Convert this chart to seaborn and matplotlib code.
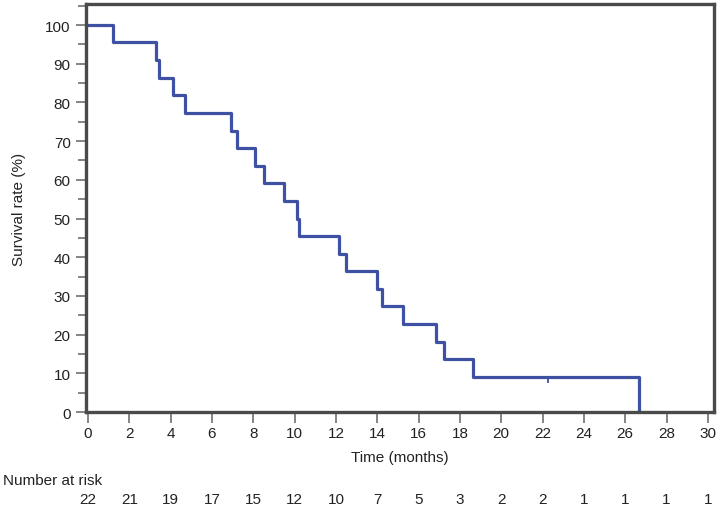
import numpy as np
import matplotlib
matplotlib.use("Agg")
import matplotlib.pyplot as plt
import matplotlib.transforms as mtransforms
from matplotlib.ticker import MultipleLocator
import pandas as pd
import seaborn as sns

# Kaplan-Meier steps
times = [0, 1.2, 3.3, 3.45, 4.1, 4.7, 6.9, 7.2, 8.1, 8.5, 9.5, 10.1, 10.2,
         12.15, 12.5, 14.0, 14.25, 15.25, 16.85, 17.25, 18.65, 26.65]
survival = [100, 95.5, 90.9, 86.4, 81.8, 77.3, 72.7, 68.2, 63.6, 59.1, 54.5, 50.0,
            45.5, 40.9, 36.4, 31.8, 27.3, 22.7, 18.2, 13.6, 9.1, 0]
censor_times = [22.25]
censor_surv = [9.1]
risk_times = list(range(0, 31, 2))
at_risk = [22, 21, 19, 17, 15, 12, 10, 7, 5, 3, 2, 2, 1, 1, 1, 1]

sns.set_style("white")
plt.rcParams["font.family"] = ["Liberation Sans Narrow", "Liberation Sans", "DejaVu Sans"]

df = pd.DataFrame({"time": times, "surv": survival})
line_col = "#3f51a3"
spine_col = "#4a4a4a"

fig = plt.figure(figsize=(7.2, 5.1), dpi=100)
ax = fig.add_axes([0.1194, 0.19, 0.8723, 0.80])

sns.lineplot(data=df, x="time", y="surv", drawstyle="steps-post", color=line_col,
             linewidth=2.3, ax=ax, estimator=None)
ax.scatter(censor_times, censor_surv, marker=[(0, 0), (0, -1)], s=70,
           color=line_col, linewidths=1.3, zorder=3)

ax.set_xlim(-0.1, 30.3)
ax.set_ylim(0, 105.4)
ax.set_xticks(risk_times)
ax.set_yticks(range(0, 101, 10))
ax.yaxis.set_minor_locator(MultipleLocator(5))
ax.tick_params(axis="both", which="both", direction="out", color="#707070",
               labelsize=11, labelcolor="#222222", bottom=True, left=True)
ax.tick_params(axis="x", which="major", length=8, width=1.2, pad=2)
ax.tick_params(axis="y", which="major", length=7, width=1.2, pad=4)
ax.tick_params(axis="y", which="minor", length=6, width=1.2)
for s in ax.spines.values():
    s.set_color(spine_col)
    s.set_linewidth(2.4)
    s.set_visible(True)

ax.set_xlabel("Time (months)", fontsize=11, color="#222222")
ax.set_ylabel("Survival rate (%)", fontsize=11, color="#222222", labelpad=14)
ax.xaxis.set_label_coords(0.5, -(458 - 413) / 408)
ax.xaxis.label.set_va("center")

# number at risk table
trans = mtransforms.blended_transform_factory(ax.transData, fig.transFigure)
fig.text(0.004, 1 - 481 / 510, "Number at risk", fontsize=11, color="#222222",
         va="center", ha="left")
for t, n in zip(risk_times, at_risk):
    ax.text(t, 1 - 500 / 510, str(n), transform=trans, fontsize=11,
            color="#222222", ha="center", va="center")

fig.savefig("out.png", dpi=100)
